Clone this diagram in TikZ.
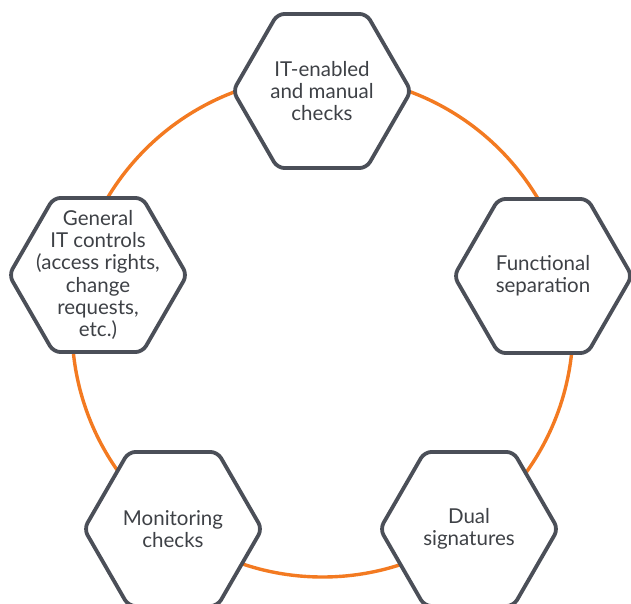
\documentclass[tikz,border=0pt]{standalone}
\usepackage{fontspec}
\setmainfont{Lato}
\usetikzlibrary{shapes.geometric}
\definecolor{ringOrange}{HTML}{F37A21}
\definecolor{hexGray}{HTML}{4B4F58}
\definecolor{textGray}{HTML}{3E4146}
\tikzstyle{hexBox} = [regular polygon, regular polygon sides=6, minimum size=178pt, inner sep=0pt, draw=hexGray, line width=3.8pt, rounded corners=7pt, fill=white]
\tikzstyle{hexText} = [align=center, text=textGray, font=\fontsize{20.5}{22.3}\selectfont]
\tikzstyle{ring} = [draw=ringOrange, line width=3.4pt]

\begin{document}
\begin{tikzpicture}[x=1pt,y=-1pt]
\useasboundingbox (0,0) rectangle (631,604);

\coordinate (hub) at (322.5,326.5);
\draw [ring] (hub) circle (250.5pt);

\node (checks) [hexBox] at (322,91) {};
\node (checksLabel) [hexText] at (checks) {IT-enabled\\and manual\\checks};

\node (separation) [hexBox] at (543,276) {};
\node (separationLabel) [hexText] at (separation) {Functional\\separation};

\node (signatures) [hexBox] at (469,529) {};
\node (signaturesLabel) [hexText] at (signatures) {Dual\\signatures};

\node (monitoring) [hexBox] at (173,529) {};
\node (monitoringLabel) [hexText] at (monitoring) {Monitoring\\checks};

\node (controls) [hexBox] at (98,275) {};
\node (controlsLabel) [hexText] at (controls) {General\\IT controls\\(access rights,\\change\\requests,\\etc.)};

\end{tikzpicture}
\end{document}
